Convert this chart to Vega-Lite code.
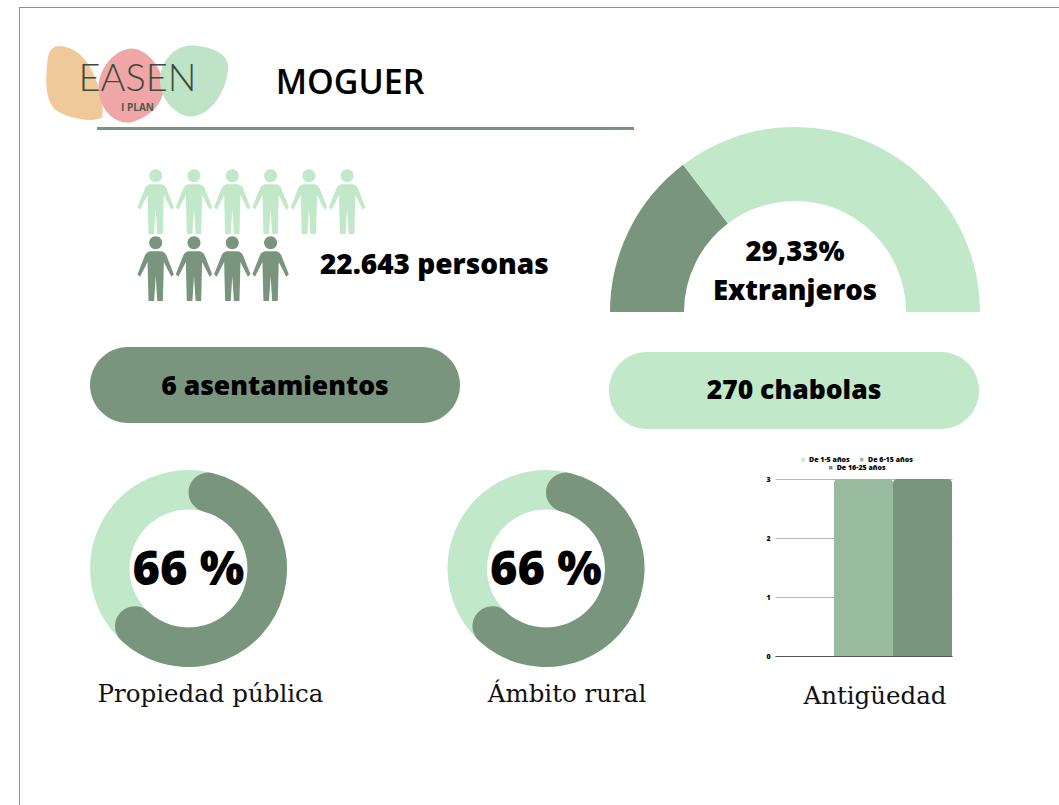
{
"$schema":"https://vega.github.io/schema/vega-lite/v6.json",
"background":"white",
"padding":{"left":0,"top":7,"right":0,"bottom":0},
"config":{"view":{"stroke":null},"concat":{"spacing":0},"font":"Open Sans"},
"spacing":0,
"resolve":{"scale":{"color":"independent"}},
"hconcat":[
 {"width":20,"height":798,"data":{"values":[{"marco":"izquierdo"}]},"mark":{"type":"rect","color":"#8f8f8f"},"encoding":{"x":{"datum":0.95,"type":"quantitative","scale":{"domain":[0,1],"nice":false},"axis":null},"x2":{"datum":1}}},
 {"spacing":0,"resolve":{"scale":{"color":"independent"}},"vconcat":[
  {"width":1039,"height":1,"data":{"values":[{"marco":"superior"}]},"mark":{"type":"rect","color":"#8f8f8f"}},
  {"spacing":0,"hconcat":[
   {"width":20,"height":119,"data":{"values":[]},"mark":"rect"},
   {"width":195,"height":119,"data":{"values":[{"logo":"EASEN","sub":"I PLAN"}]},"layer":[
    {"mark":{"type":"point","filled":true,"opacity":1,"strokeWidth":0,"color":"#f0c99b","size":5625,"xOffset":-61.5,"yOffset":16,"shape":"M-0.45 -1 C-0.1 -1 0.2 -0.75 0.4 -0.4 C0.6 0 0.77 0.6 0.7 0.9 C0.5 1.05 -0.2 0.95 -0.55 0.7 C-0.85 0.4 -0.8 -0.2 -0.77 -0.5 C-0.75 -0.85 -0.65 -1 -0.45 -1 Z"}},
    {"mark":{"type":"point","filled":true,"opacity":1,"strokeWidth":0,"color":"#f0a6a6","size":5476,"xOffset":-6.5,"yOffset":18,"shape":"M0 -1 C0.4 -1 0.85 -0.5 0.88 0 C0.9 0.5 0.5 0.85 0 1 C-0.5 1.05 -0.85 0.6 -0.88 0.1 C-0.9 -0.4 -0.5 -0.95 0 -1 Z"}},
    {"mark":{"type":"point","filled":true,"opacity":1,"strokeWidth":0,"color":"#bfe3c6","size":5041,"xOffset":56.5,"yOffset":13.5,"shape":"M-0.1 -1 C0.4 -1 0.96 -0.8 0.96 -0.4 C0.96 0.2 0.5 1 -0.1 1 C-0.5 1 -0.96 0.5 -0.96 0 C-0.96 -0.6 -0.5 -1 -0.1 -1 Z"}},
    {"mark":{"type":"text","font":"Lato","fontWeight":300,"fontSize":38,"color":"#3f4a3e","dy":12},"encoding":{"text":{"field":"logo"}}},
    {"mark":{"type":"text","font":"Open Sans","fontWeight":700,"fontSize":10,"color":"#4d5a4c","dy":40},"encoding":{"text":{"field":"sub"}}}
   ]},
   {"width":40,"height":119,"data":{"values":[]},"mark":"rect"},
   {"width":150,"height":119,"data":{"values":[{"titulo":"MOGUER"}]},"mark":{"type":"text","font":"Open Sans","fontWeight":600,"fontSize":34,"color":"#000000","dy":16.5},"encoding":{"text":{"field":"titulo"}}}
  ]},
  {"spacing":0,"resolve":{"scale":{"color":"independent"}},"hconcat":[
   {"spacing":0,"resolve":{"scale":{"color":"independent"}},"vconcat":[
    {"spacing":0,"hconcat":[
     {"width":77,"height":3,"data":{"values":[]},"mark":"rect"},
     {"width":513,"height":3,"data":{"values":[{"linea":"separador"}]},"mark":{"type":"rect","color":"#7a957d"}}
    ]},
    {"width":590,"height":182,"layer":[
     {"data":{"values":[
      {"col":1,"fila":1,"grupo":"claro"},{"col":2,"fila":1,"grupo":"claro"},{"col":3,"fila":1,"grupo":"claro"},{"col":4,"fila":1,"grupo":"claro"},{"col":5,"fila":1,"grupo":"claro"},{"col":6,"fila":1,"grupo":"claro"},
      {"col":1,"fila":2,"grupo":"oscuro"},{"col":2,"fila":2,"grupo":"oscuro"},{"col":3,"fila":2,"grupo":"oscuro"},{"col":4,"fila":2,"grupo":"oscuro"}]},
      "mark":{"type":"point","filled":true,"opacity":1,"strokeWidth":0,"size":4225,"shape":"M0.2 -0.79 A0.2 0.2 0 1 1 -0.2 -0.79 A0.2 0.2 0 1 1 0.2 -0.79 Z M-0.18 -0.53 L0.18 -0.53 Q0.3 -0.5 0.34 -0.38 L0.56 0.18 L0.48 0.25 L0.25 -0.2 L0.24 0.26 L0.22 1 L0.05 1 L0 0.24 L-0.05 1 L-0.22 1 L-0.24 0.26 L-0.25 -0.2 L-0.48 0.25 L-0.56 0.18 L-0.34 -0.38 Q-0.3 -0.5 -0.18 -0.53 Z"},
      "encoding":{
       "x":{"field":"col","type":"quantitative","scale":{"domain":[-2.543,12.862],"nice":false,"zero":false},"axis":null},
       "y":{"field":"fila","type":"quantitative","scale":{"domain":[-0.067,2.649],"reverse":true,"nice":false,"zero":false},"axis":null},
       "color":{"field":"grupo","type":"nominal","scale":{"domain":["claro","oscuro"],"range":["#c1e8c8","#7a957d"]},"legend":null}}},
     {"data":{"values":[{"texto":"22.643 personas"}]},
      "mark":{"type":"text","font":"Open Sans","fontWeight":800,"fontSize":28,"color":"#000000","align":"left","dx":11,"dy":-2.5},
      "encoding":{"x":{"datum":5,"type":"quantitative"},"y":{"datum":2,"type":"quantitative"},"text":{"field":"texto"}}}
    ]}
   ]},
   {"width":370,"height":185,"data":{"values":[{"grupo":"Extranjeros","valor":29.33,"orden":1},{"grupo":"Resto","valor":70.67,"orden":2}]},"layer":[
    {"mark":{"type":"arc","radius":185,"radius2":111,"yOffset":92.5},
     "encoding":{"theta":{"field":"valor","type":"quantitative","stack":"zero","scale":{"domain":[0,100],"range":[-1.5708,1.5708]}},
      "order":{"field":"orden"},
      "color":{"field":"grupo","type":"nominal","scale":{"domain":["Extranjeros","Resto"],"range":["#7a957d","#c1e8c8"]},"legend":null}}},
    {"transform":[{"filter":"datum.grupo==='Extranjeros'"},{"calculate":"'29,33%'","as":"pct"}],
     "mark":{"type":"text","font":"Open Sans","fontWeight":800,"fontSize":27.5,"color":"#000000","dy":33},"encoding":{"text":{"field":"pct"}}},
    {"transform":[{"filter":"datum.grupo==='Extranjeros'"}],
     "mark":{"type":"text","font":"Open Sans","fontWeight":800,"fontSize":27.5,"color":"#000000","dy":72},"encoding":{"text":{"field":"grupo"}}},
    {"data":{"values":[{"linea":"separador"}]},
     "mark":{"type":"rect","color":"#7a957d"},
     "encoding":{"x":{"datum":0,"type":"quantitative","scale":{"domain":[0,1],"nice":false},"axis":null},"x2":{"datum":0.065},"y":{"datum":1,"type":"quantitative","scale":{"domain":[0,1],"nice":false},"axis":null},"y2":{"datum":0.984}}}
   ]}
  ]},
  {"spacing":0,"hconcat":[
   {"width":70,"height":116,"data":{"values":[]},"mark":"rect"},
   {"spacing":0,"vconcat":[
    {"width":370,"height":34,"data":{"values":[]},"mark":"rect"},
    {"width":370,"height":76,"data":{"values":[{"etiqueta":"6 asentamientos"}]},"layer":[
     {"mark":{"type":"rect","color":"#7a957d","cornerRadius":38}},
     {"mark":{"type":"text","font":"Open Sans","fontWeight":800,"fontSize":26.5,"color":"#000000","dy":2},"encoding":{"text":{"field":"etiqueta"}}}
    ]}
   ]},
   {"width":149,"height":116,"data":{"values":[]},"mark":"rect"},
   {"spacing":0,"vconcat":[
    {"width":370,"height":39,"data":{"values":[]},"mark":"rect"},
    {"width":370,"height":77,"data":{"values":[{"etiqueta":"270 chabolas"}]},"layer":[
     {"mark":{"type":"rect","color":"#c1e8c8","cornerRadius":38}},
     {"mark":{"type":"text","font":"Open Sans","fontWeight":800,"fontSize":26.5,"color":"#000000","dy":0.5},"encoding":{"text":{"field":"etiqueta"}}}
    ]}
   ]}
  ]},
  {"spacing":0,"resolve":{"scale":{"color":"independent"}},"hconcat":[
   {"width":337,"height":279,"data":{"values":[{"categoria":"Propiedad pública","valor":66,"texto":"66 %"},{"categoria":"Resto","valor":34,"texto":""}]},"layer":[
    {"mark":{"type":"arc","radius":98.5,"radius2":59,"color":"#c1e8c8"},"encoding":{"theta":{"aggregate":"sum","field":"valor","type":"quantitative","scale":{"domain":[0,100],"range":[0,6.2832]}}}},
    {"transform":[{"filter":"datum.categoria!=='Resto'"}],"mark":{"type":"arc","radius":98.5,"radius2":59,"color":"#7a957d","cornerRadius":19.7},"encoding":{"theta":{"field":"valor","type":"quantitative"}}},
    {"transform":[{"filter":"datum.categoria!=='Resto'"}],"mark":{"type":"text","font":"Open Sans","fontWeight":800,"fontSize":47,"color":"#000000","dy":2.5},"encoding":{"text":{"field":"texto"}}},
    {"transform":[{"filter":"datum.categoria!=='Resto'"}],"mark":{"type":"text","font":"DejaVu Serif","fontSize":24.5,"color":"#111111","dx":22,"dy":126},"encoding":{"text":{"field":"categoria"}}}
   ]},
   {"width":378,"height":279,"data":{"values":[{"categoria":"Ámbito rural","valor":66,"texto":"66 %"},{"categoria":"Resto","valor":34,"texto":""}]},"layer":[
    {"mark":{"type":"arc","radius":98.5,"radius2":59,"color":"#c1e8c8"},"encoding":{"theta":{"aggregate":"sum","field":"valor","type":"quantitative","scale":{"domain":[0,100],"range":[0,6.2832]}}}},
    {"transform":[{"filter":"datum.categoria!=='Resto'"}],"mark":{"type":"arc","radius":98.5,"radius2":59,"color":"#7a957d","cornerRadius":19.7},"encoding":{"theta":{"field":"valor","type":"quantitative"}}},
    {"transform":[{"filter":"datum.categoria!=='Resto'"}],"mark":{"type":"text","font":"Open Sans","fontWeight":800,"fontSize":47,"color":"#000000","dy":2.5},"encoding":{"text":{"field":"texto"}}},
    {"transform":[{"filter":"datum.categoria!=='Resto'"}],"mark":{"type":"text","font":"DejaVu Serif","fontSize":24.5,"color":"#111111","dx":21,"dy":126},"encoding":{"text":{"field":"categoria"}}}
   ]},
   {"spacing":0,"resolve":{"scale":{"color":"independent"}},"vconcat":[
    {"width":100,"height":26,"data":{"values":[]},"mark":"rect"},
    {"spacing":0,"hconcat":[
     {"width":30,"height":1,"data":{"values":[]},"mark":"rect"},
     {"width":177,"height":177,"data":{"values":[{"serie":"De 1-5 años","n":0},{"serie":"De 6-15 años","n":3},{"serie":"De 16-25 años","n":3}]},"layer":[
      {"mark":{"type":"bar","cornerRadiusTopLeft":4,"cornerRadiusTopRight":4},
       "encoding":{
        "x":{"field":"serie","type":"nominal","sort":null,"scale":{"domain":["De 1-5 años","De 6-15 años","De 16-25 años"],"paddingInner":0,"paddingOuter":0},"axis":{"title":null,"labels":false,"ticks":false,"domain":true,"domainColor":"#555555","grid":false}},
        "y":{"field":"n","type":"quantitative","scale":{"domain":[0,3],"nice":false},"axis":{"title":null,"values":[0,1,2,3],"format":"d","domain":false,"ticks":false,"grid":true,"gridColor":"#b9b9b9","labelFont":"Open Sans","labelFontWeight":800,"labelFontSize":7,"labelColor":"#000000","labelPadding":5}},
        "color":{"field":"serie","type":"nominal","scale":{"domain":["De 1-5 años","De 6-15 años","De 16-25 años"],"range":["#c1e8c8","#98ba9f","#7a957d"]},"legend":null}}},
      {"transform":[{"filter":"datum.n===0"}],"mark":{"type":"point","filled":true,"shape":"square","size":12,"opacity":1,"xOffset":-60.5,"yOffset":-107.8},"encoding":{"color":{"field":"serie","type":"nominal","scale":{"domain":["De 1-5 años","De 6-15 años","De 16-25 años"],"range":["#c1e8c8","#98ba9f","#7a957d"]},"legend":null}}},
      {"transform":[{"filter":"datum.serie==='De 6-15 años'"}],"mark":{"type":"point","filled":true,"shape":"square","size":12,"opacity":1,"xOffset":-1.8,"yOffset":-107.8},"encoding":{"color":{"field":"serie","type":"nominal","scale":{"domain":["De 1-5 años","De 6-15 años","De 16-25 años"],"range":["#c1e8c8","#98ba9f","#7a957d"]},"legend":null}}},
      {"transform":[{"filter":"datum.serie==='De 16-25 años'"}],"mark":{"type":"point","filled":true,"shape":"square","size":12,"opacity":1,"xOffset":-32.8,"yOffset":-99.8},"encoding":{"color":{"field":"serie","type":"nominal","scale":{"domain":["De 1-5 años","De 6-15 años","De 16-25 años"],"range":["#c1e8c8","#98ba9f","#7a957d"]},"legend":null}}},
      {"transform":[{"filter":"datum.n===0"}],"mark":{"type":"text","align":"left","font":"Open Sans","fontWeight":800,"fontSize":7,"color":"#000000","dx":-54.5,"dy":-107.8},"encoding":{"text":{"field":"serie"}}},
      {"transform":[{"filter":"datum.serie==='De 6-15 años'"}],"mark":{"type":"text","align":"left","font":"Open Sans","fontWeight":800,"fontSize":7,"color":"#000000","dx":4.5,"dy":-107.8},"encoding":{"text":{"field":"serie"}}},
      {"transform":[{"filter":"datum.serie==='De 16-25 años'"}],"mark":{"type":"text","align":"left","font":"Open Sans","fontWeight":800,"fontSize":7,"color":"#000000","dx":-26.8,"dy":-99.8},"encoding":{"text":{"field":"serie"}}},
      {"transform":[{"filter":"datum.serie==='De 16-25 años'"},{"calculate":"'Antigüedad'","as":"titulo"}],"mark":{"type":"text","font":"DejaVu Serif","fontSize":24.5,"color":"#111111","dx":11.5,"dy":129},"encoding":{"text":{"field":"titulo"}}}
     ]}
    ]}
   ]}
  ]}
 ]}
]
}
